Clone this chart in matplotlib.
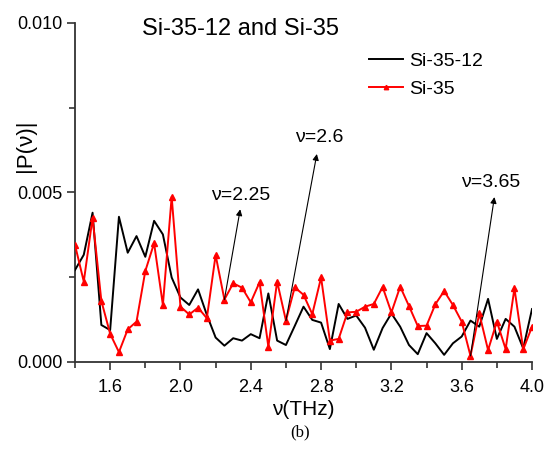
import matplotlib
matplotlib.use("Agg")
import matplotlib.pyplot as plt
from matplotlib.ticker import MultipleLocator, FormatStrFormatter

plt.rcParams['font.family'] = ['Liberation Sans', 'DejaVu Sans']

# Frequency grid (THz)
freq = [1.40, 1.45, 1.50, 1.55, 1.60, 1.65, 1.70, 1.75, 1.80, 1.85, 1.90, 1.95,
        2.00, 2.05, 2.10, 2.15, 2.20, 2.25, 2.30, 2.35, 2.40, 2.45, 2.50, 2.55,
        2.60, 2.65, 2.70, 2.75, 2.80, 2.85, 2.90, 2.95, 3.00, 3.05, 3.10, 3.15,
        3.20, 3.25, 3.30, 3.35, 3.40, 3.45, 3.50, 3.55, 3.60, 3.65, 3.70, 3.75,
        3.80, 3.85, 3.90, 3.95, 4.00]

# |P(nu)| for Si-35-12
si35_12 = [0.00271, 0.00316, 0.00440, 0.00109, 0.00094, 0.00428, 0.00322, 0.00371,
           0.00310, 0.00416, 0.00376, 0.00249, 0.00190, 0.00168, 0.00214, 0.00139,
           0.00072, 0.00048, 0.00070, 0.00063, 0.00082, 0.00070, 0.00202, 0.00063,
           0.00050, 0.00106, 0.00163, 0.00124, 0.00116, 0.00038, 0.00171, 0.00127,
           0.00137, 0.00101, 0.00036, 0.00100, 0.00143, 0.00104, 0.00050, 0.00023,
           0.00085, 0.00055, 0.00021, 0.00055, 0.00075, 0.00122, 0.00104, 0.00186,
           0.00068, 0.00127, 0.00104, 0.00040, 0.00156]

# |P(nu)| for Si-35
si35 = [0.00345, 0.00237, 0.00425, 0.00180, 0.00083, 0.00029, 0.00096, 0.00119,
        0.00268, 0.00350, 0.00168, 0.00487, 0.00163, 0.00140, 0.00160, 0.00129,
        0.00315, 0.00184, 0.00232, 0.00219, 0.00176, 0.00235, 0.00045, 0.00237,
        0.00122, 0.00220, 0.00198, 0.00141, 0.00249, 0.00063, 0.00068, 0.00146,
        0.00148, 0.00163, 0.00171, 0.00221, 0.00146, 0.00222, 0.00165, 0.00106,
        0.00107, 0.00170, 0.00209, 0.00168, 0.00119, 0.00018, 0.00143, 0.00035,
        0.00119, 0.00038, 0.00217, 0.00037, 0.00104]

# Marked frequencies and label/arrow-tip positions
marked = [2.25, 2.6, 3.65]
marked_labels = ["ν=2.25", "ν=2.6", "ν=3.65"]
tips = [(2.34, 0.00450), (2.776, 0.00613), (3.786, 0.00486)]
label_pos = [(2.34, 0.00490), (2.79, 0.00663), (3.763, 0.00528)]

fig = plt.figure(figsize=(5.47, 4.62), dpi=100)
ax = fig.add_axes([0.1371, 0.2165, 0.8355, 0.7344])

ax.plot(freq, si35_12, color='black', lw=1.4, label='Si-35-12', zorder=3)
ax.plot(freq, si35, color='#ff0000', lw=1.4, marker='^', ms=4,
        label='Si-35', zorder=4)

ax.set_xlim(1.4, 4.0)
ax.set_ylim(0.0, 0.010)

for sp in ['top', 'right']:
    ax.spines[sp].set_visible(False)
for sp in ['left', 'bottom']:
    ax.spines[sp].set_linewidth(1.3)
    ax.spines[sp].set_color('#333333')

ax.xaxis.set_major_locator(MultipleLocator(0.4))
ax.xaxis.set_minor_locator(MultipleLocator(0.2))
ax.yaxis.set_major_locator(MultipleLocator(0.005))
ax.yaxis.set_minor_locator(MultipleLocator(0.0025))
ax.xaxis.set_major_formatter(FormatStrFormatter('%.1f'))
ax.yaxis.set_major_formatter(FormatStrFormatter('%.3f'))
ax.tick_params(which='major', direction='out', length=6, width=1.2,
               labelsize=13, color='#333333')
ax.tick_params(which='minor', direction='out', length=4, width=1.2,
               color='#333333')
ax.tick_params(axis='x', pad=6)
ax.tick_params(axis='y', pad=3)

ax.set_xlabel('ν(THz)', fontsize=15, labelpad=3)
ax.set_ylabel('|P(ν)|', fontsize=16)
ax.yaxis.set_label_coords(-0.085, 0.637)

# Arrows from the Si-35 curve to the frequency labels
for f, lab, tip, lp in zip(marked, marked_labels, tips, label_pos):
    i = freq.index(f)
    ax.annotate('', xy=tip, xytext=(f, si35[i]),
                arrowprops=dict(arrowstyle='-|>', lw=0.8, color='black',
                                mutation_scale=9, shrinkA=0, shrinkB=0),
                zorder=5)
    ax.text(lp[0], lp[1], lab, fontsize=14, ha='center', va='center')

leg = ax.legend(loc='upper left', bbox_to_anchor=(369 / 547, 1 - 52 / 462),
                bbox_transform=fig.transFigure, frameon=False, fontsize=14,
                handlelength=1.75, handletextpad=0.3, labelspacing=0.55,
                borderpad=0, borderaxespad=0, numpoints=1, markerscale=0.8)

fig.text(240.5 / 547, 1 - 29 / 462, 'Si-35-12 and Si-35', fontsize=17,
         ha='center', va='center')
fig.text(300 / 547, 1 - 432 / 462, '(b)', fontsize=12, ha='center',
         va='center', family=['Liberation Serif', 'DejaVu Serif'])

fig.savefig('out.png', dpi=100)
